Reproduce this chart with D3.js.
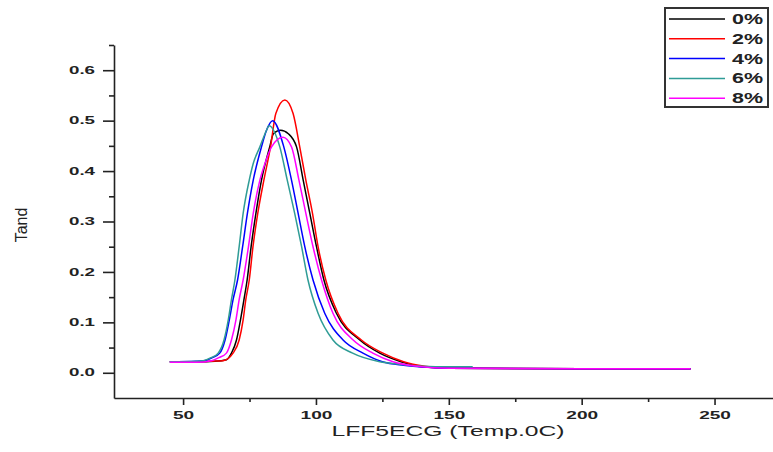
<!DOCTYPE html>
<html>
<head>
<meta charset="utf-8">
<script src="https://cdn.jsdelivr.net/npm/d3@7"></script>
<style>
  body { margin: 0; background: #fff; }
  svg { display: block; }
  text { font-family: "Liberation Sans", Arial, sans-serif; fill: #222; }
</style>
</head>
<body>
<svg id="chart" width="773" height="452"></svg>
<script>
// series labels and colours (legend order)
var seriesNames  = ["0%", "2%", "4%", "6%", "8%"];
var seriesColors = ["#000000", "#ff0000", "#0000ff", "#2f9c96", "#ff00ff"];

// values: temperature (x) and tan delta (y)
var temp0 = [45, 55, 62, 66.3, 68.2, 70.1, 71.6, 72.9, 74.1, 75.6, 77.4, 79.5, 82.6, 84.0, 86.7, 89.6, 92.7, 95.2, 97.7, 100.2, 103, 107.7, 116.5, 124, 132, 140, 150, 200, 241];
var tand0 = [0.022, 0.022, 0.023, 0.026, 0.039, 0.065, 0.105, 0.145, 0.184, 0.250, 0.316, 0.382, 0.448, 0.474, 0.481, 0.474, 0.448, 0.382, 0.316, 0.250, 0.184, 0.118, 0.065, 0.039, 0.022, 0.012, 0.009, 0.008, 0.008];

var temp2 = [45, 55, 61, 65, 68.8, 71.1, 72.6, 73.6, 74.9, 76.3, 78.1, 80.4, 82.9, 84.9, 88.3, 91.4, 93.9, 96.2, 98.7, 100.8, 103.7, 108.3, 117.1, 125.2, 133, 141, 150, 200, 241];
var tand2 = [0.022, 0.022, 0.023, 0.024, 0.039, 0.065, 0.105, 0.145, 0.184, 0.250, 0.316, 0.382, 0.448, 0.514, 0.541, 0.514, 0.448, 0.382, 0.316, 0.250, 0.184, 0.118, 0.065, 0.039, 0.022, 0.013, 0.009, 0.008, 0.008];

var temp4 = [45, 55, 58, 61, 63.8, 65.8, 67.4, 68.8, 70.5, 72.4, 74.2, 76.4, 79.5, 81.4, 83.7, 87.9, 90.8, 93.3, 95.8, 98.9, 103.3, 110.2, 117.7, 125, 133, 142, 150, 200, 241];
var tand4 = [0.022, 0.023, 0.024, 0.030, 0.039, 0.065, 0.105, 0.145, 0.184, 0.250, 0.316, 0.382, 0.448, 0.481, 0.500, 0.448, 0.382, 0.316, 0.250, 0.184, 0.118, 0.065, 0.039, 0.022, 0.015, 0.011, 0.009, 0.008, 0.008];

var temp6 = [45, 55, 57.6, 60.5, 63.2, 65.4, 67, 68.2, 69.5, 71.1, 72.6, 74.9, 76.4, 78.9, 81.4, 82.3, 86.4, 89.2, 92, 94.6, 97, 100.8, 106.4, 113.8, 124, 131.5, 140, 150, 159];
var tand6 = [0.022, 0.023, 0.024, 0.030, 0.039, 0.065, 0.105, 0.145, 0.184, 0.250, 0.316, 0.382, 0.415, 0.448, 0.481, 0.490, 0.448, 0.382, 0.316, 0.250, 0.184, 0.118, 0.065, 0.039, 0.022, 0.017, 0.013, 0.012, 0.012];

var temp8 = [45, 55, 60.7, 63.5, 66.3, 68.2, 69.9, 71.1, 72.6, 74.6, 76.4, 78.9, 80.8, 83.3, 87.6, 90.8, 93.6, 96.2, 98.9, 102.1, 106.4, 114, 121.4, 129, 138, 150, 200, 241];
var tand8 = [0.021, 0.021, 0.024, 0.030, 0.039, 0.065, 0.105, 0.145, 0.184, 0.250, 0.316, 0.382, 0.415, 0.448, 0.467, 0.448, 0.382, 0.316, 0.250, 0.184, 0.118, 0.065, 0.039, 0.022, 0.013, 0.009, 0.008, 0.008];

var xMajorTicks = [50, 100, 150, 200, 250];
var xMinorTicks = [75, 125, 175, 225];
var yMajorTicks = [0.0, 0.1, 0.2, 0.3, 0.4, 0.5, 0.6];
var yMinorTicks = [0.05, 0.15, 0.25, 0.35, 0.45, 0.55, 0.65];

var xTitle = "LFF5ECG (Temp.0C)";
var yTitle = "Tand";

var temps = [temp0, temp2, temp4, temp6, temp8];
var tands = [tand0, tand2, tand4, tand6, tand8];

var svg = d3.select("#chart");

// scales
var xscale = d3.scaleLinear().domain([24, 272]).range([114, 773]);
var yscale = d3.scaleLinear().domain([-0.05, 0.65]).range([398, 45]);

var axisColor = "#222";

// x axis (major + minor)
var gx = svg.append("g").attr("transform", "translate(0,398)");
gx.call(d3.axisBottom(xscale).tickValues(xMajorTicks).tickSize(7).tickSizeOuter(0)
          .tickPadding(7).tickFormat(d3.format("d")));
svg.append("g").attr("transform", "translate(0,398)")
   .call(d3.axisBottom(xscale).tickValues(xMinorTicks).tickSize(4).tickSizeOuter(0).tickFormat(""))
   .select(".domain").remove();

// y axis (major + minor)
var gy = svg.append("g").attr("transform", "translate(114,0)");
gy.call(d3.axisLeft(yscale).tickValues(yMajorTicks).tickSize(11).tickSizeOuter(0)
          .tickPadding(8).tickFormat(d3.format(".1f")));
svg.append("g").attr("transform", "translate(114,0)")
   .call(d3.axisLeft(yscale).tickValues(yMinorTicks).tickSize(5).tickSizeOuter(0).tickFormat(""))
   .select(".domain").remove();

svg.selectAll(".domain, .tick line").attr("stroke", axisColor).attr("stroke-width", 1.6);

// wide, spaced-out tick labels like the original
gx.selectAll(".tick text")
  .attr("font-size", 10).attr("font-weight", "bold").attr("fill", "#333")
  .attr("textLength", function(d) { return String(d).length * 10.6; })
  .attr("lengthAdjust", "spacingAndGlyphs");
gy.selectAll(".tick text")
  .attr("font-size", 10).attr("font-weight", "bold").attr("fill", "#333")
  .attr("textLength", 26)
  .attr("lengthAdjust", "spacingAndGlyphs");

// axis titles
svg.append("text")
   .attr("x", 448).attr("y", 436)
   .attr("text-anchor", "middle")
   .attr("font-size", 14)
   .attr("textLength", 233).attr("lengthAdjust", "spacingAndGlyphs")
   .text(xTitle);

svg.append("text")
   .attr("transform", "translate(27,225)rotate(-90)")
   .attr("text-anchor", "middle")
   .attr("font-size", 16)
   .text(yTitle);

// curves
var line = d3.line()
  .x(function(d) { return xscale(d[0]); })
  .y(function(d) { return yscale(d[1]); })
  .curve(d3.curveMonotoneX);

seriesNames.forEach(function(name, i) {
  var pts = d3.zip(temps[i], tands[i]);
  svg.append("path")
     .datum(pts)
     .attr("fill", "none")
     .attr("stroke", seriesColors[i])
     .attr("stroke-width", 1.5)
     .attr("d", line);
});

// legend
var legend = svg.append("g");
legend.append("rect")
      .attr("x", 665).attr("y", 8).attr("width", 103).attr("height", 99)
      .attr("fill", "#fff").attr("stroke", "#333").attr("stroke-width", 2);

seriesNames.forEach(function(name, i) {
  var ly = 19 + i * 19.8;
  legend.append("line")
        .attr("x1", 669).attr("x2", 725).attr("y1", ly).attr("y2", ly)
        .attr("stroke", seriesColors[i]).attr("stroke-width", 1.5);
  legend.append("text")
        .attr("x", 732).attr("y", ly).attr("dy", "0.36em")
        .attr("font-size", 14).attr("font-weight", "bold").attr("fill", "#333")
        .attr("textLength", 31).attr("lengthAdjust", "spacingAndGlyphs")
        .text(name);
});
</script>
</body>
</html>
